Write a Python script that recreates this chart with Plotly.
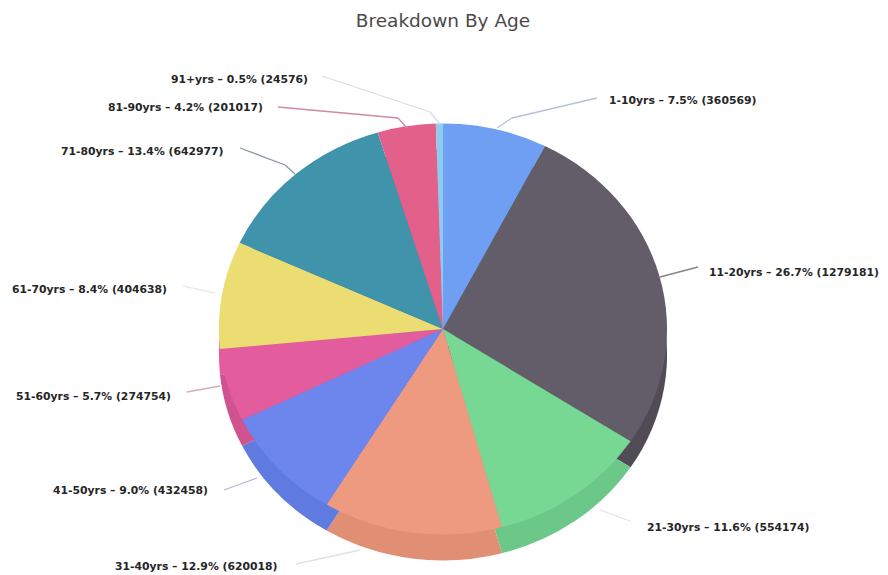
import plotly.graph_objects as go

W, H = 888, 575

categories = ["1-10yrs", "11-20yrs", "21-30yrs", "31-40yrs", "41-50yrs",
              "51-60yrs", "61-70yrs", "71-80yrs", "81-90yrs", "91+yrs"]
values = [360569, 1279181, 554174, 620018, 432458,
          274754, 404638, 642977, 201017, 24576]
percents = ["7.5%", "26.7%", "11.6%", "12.9%", "9.0%",
            "5.7%", "8.4%", "13.4%", "4.2%", "0.5%"]
top_colors = ["#6f9ff2", "#635d69", "#76d893", "#ee9a80", "#6d86ee",
              "#e35c9d", "#ebdd72", "#3f93ab", "#e2608a", "#8fcbef"]
side_colors = ["#6490dc", "#504b55", "#6cc888", "#e08e74", "#5f7be0",
               "#d0528f", "#e35c9d", "#388398", "#cf5780", "#80b6d6"]

label_x = [607, 707, 645, 113, 51, 14, 10, 59, 106, 169]
label_y = [100, 272, 527, 566, 490, 396, 289, 151, 108, 79]
leader_paths = [
    [(597, 98), (512, 118), (497, 128)],
    [(698, 267), (660, 277)],
    [(630, 521), (600, 510)],
    [(296, 564), (360, 550)],
    [(224, 490), (257, 478)],
    [(187, 392), (220, 386)],
    [(183, 286), (215, 293)],
    [(240, 148), (285, 165), (295, 174)],
    [(278, 107), (398, 118), (407, 128)],
    [(322, 76), (430, 112), (440, 124)],
]
leader_colors = ["#b4c1d8", "#85818a", "#e2e2e2", "#dde3e4", "#b4b8d2",
                 "#d2aec0", "#ebebe6", "#8d97a0", "#d08aa0", "#d5dde4"]

CX, CY, RX, RY, DEPTH = 443, 329, 224, 205.5, 26
domain = dict(x=[(CX - RX) / W, (CX + RX) / W],
              y=[1 - (CY + RX) / H, 1 - (CY - RX) / H])


def pie(colors):
    return go.Pie(labels=categories, values=values, sort=False, direction="clockwise",
                  rotation=0, textinfo="none", hoverinfo="label+value+percent",
                  showlegend=False, domain=domain,
                  marker=dict(colors=colors, line=dict(width=0)))


fig = go.Figure([pie(side_colors), pie(top_colors)])


def px(x):
    return x / W


def py(y):
    return 1 - y / H


for name, pct, val, x, y in zip(categories, percents, values, label_x, label_y):
    fig.add_annotation(x=px(x), y=py(y), xref="paper", yref="paper",
                       xanchor="left", yanchor="middle", showarrow=False,
                       text=f"{name} – {pct} ({val})",
                       font=dict(family="DejaVu Sans", size=10.8, color="#262626", weight="bold"))

shapes = []
for pts, col in zip(leader_paths, leader_colors):
    for (x0, y0), (x1, y1) in zip(pts, pts[1:]):
        shapes.append(dict(type="line", xref="paper", yref="paper",
                           x0=px(x0), y0=py(y0), x1=px(x1), y1=py(y1),
                           line=dict(color=col, width=1.3)))

fig.update_layout(
    width=W, height=H, margin=dict(l=0, r=0, t=0, b=0),
    paper_bgcolor="white", plot_bgcolor="white", shapes=shapes,
    title=dict(text="Breakdown By Age", x=443 / W, xanchor="center", y=1 - 21 / H, yanchor="middle",
               font=dict(family="DejaVu Sans", size=18.5, color="#4a4a4a")),
)

sy = RY / RX
post = f"""
document.body.style.margin = '0';
function squash() {{
  var t = document.querySelectorAll('.pielayer .trace');
  t.forEach(function (g, i) {{
    var dy = {CY} * (1 - {sy}) + (i === 0 ? {DEPTH} : 0);
    g.setAttribute('transform', 'translate(0,' + dy + ') scale(1,{sy})');
  }});
}}
squash();
"""
fig.write_html("out.html", post_script=post, config=dict(displayModeBar=False))
